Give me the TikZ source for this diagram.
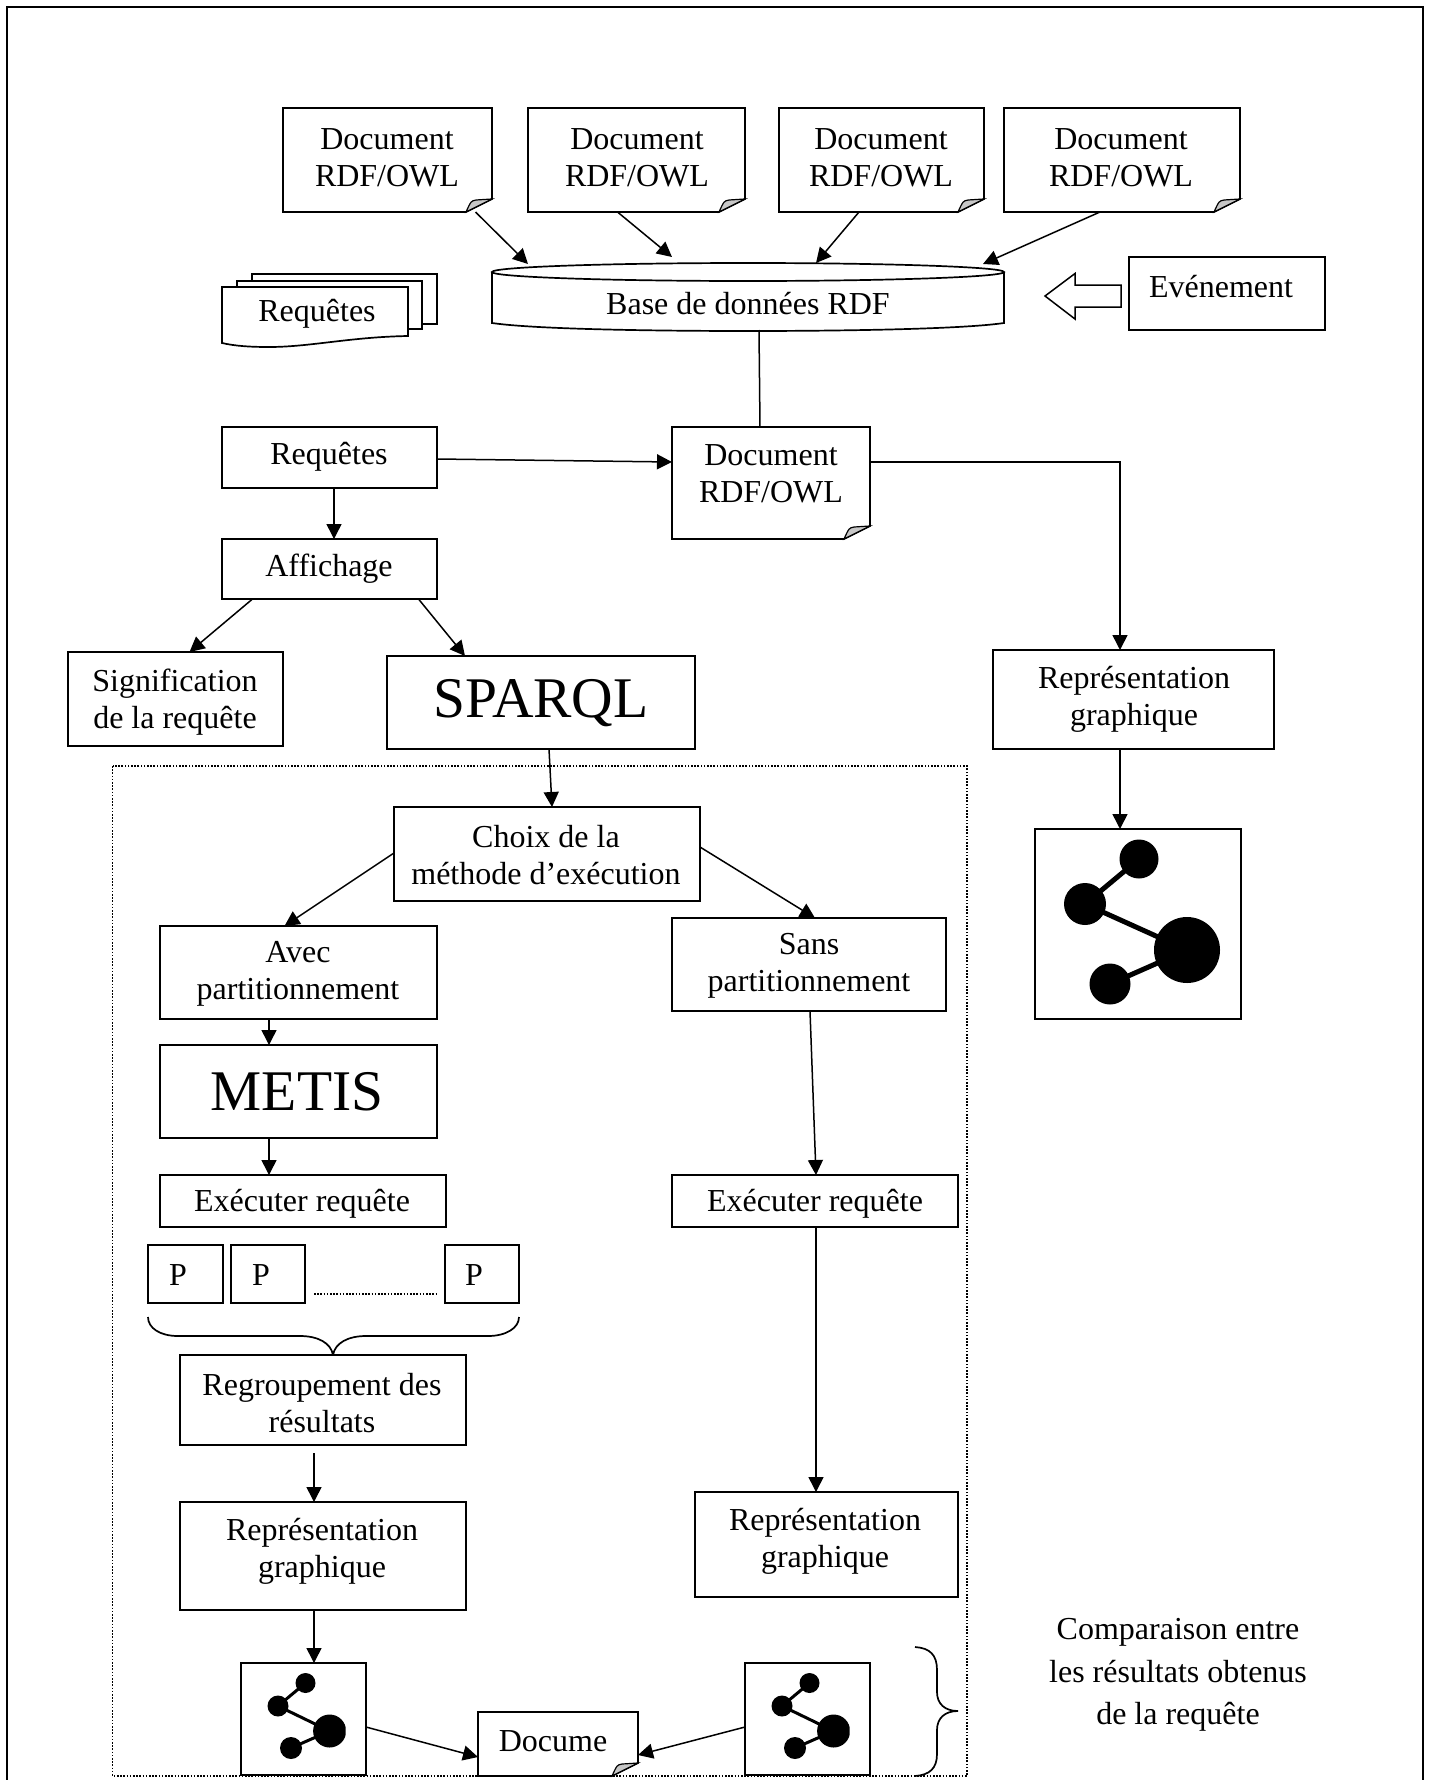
\documentclass[tikz,border=0pt]{standalone}
\usepackage{fontspec}
\setmainfont{Liberation Serif}
\usetikzlibrary{arrows.meta}
\tikzset{
  boxst/.style={draw=black,line width=1.7pt,inner sep=0,outer sep=0,fill=white},
  ghost/.style={inner sep=0,outer sep=0},
  conn/.style={draw=black,line width=1.5pt,-{Triangle[length=15pt,width=15pt]}},
  plainline/.style={draw=black,line width=1.5pt},
  txt/.style={inner sep=0,outer sep=0,align=center,font=\fontsize{32}{37}\selectfont},
  bigtxt/.style={inner sep=0,outer sep=0,align=center,font=\fontsize{57.5}{66}\selectfont},
  foldst/.style={draw=black,line width=1.2pt,fill=black!22},
  dotline/.style={draw=black,line width=1.5pt,dash pattern=on 1.6pt off 1.6pt},
  brace/.style={draw=black,line width=1.7pt}
}
\newcommand{\bx}[5]{\node[boxst,minimum width={(#4-#2)*1pt},minimum height={(#5-#3)*1pt}] (#1) at ({(#2+#4)/2},{(#3+#5)/2}) {};}
\newcommand{\gh}[5]{\node[ghost,minimum width={(#4-#2)*1pt},minimum height={(#5-#3)*1pt}] (#1) at ({(#2+#4)/2},{(#3+#5)/2}) {};}
\newcommand{\docbox}[5]{%
  \gh{#1}{#2}{#3}{#4}{#5}
  \draw[line width=1.7pt,fill=white] (#1.north west) -- (#1.north east) -- ([yshift=13]#1.south east) -- ([xshift=-26]#1.south east) -- (#1.south west) -- cycle;
  \draw[foldst] ([xshift=-26]#1.south east) .. controls ([xshift=-21,yshift=11]#1.south east) .. ([xshift=-16,yshift=12]#1.south east) -- ([yshift=13]#1.south east) -- cycle;
}
\newcommand{\smallicon}[1]{%
  \begin{scope}[xshift=#1]
    \clip (241,1663) rectangle (345.7,1775);
    \fill (305.5,1683) circle (10);
    \fill (278,1706) circle (10.5);
    \fill (329.6,1731) circle (16.5);
    \fill (291,1748) circle (11);
    \draw[line width=3pt] (305.5,1683) -- (278,1706) -- (329.6,1731) -- (291,1748);
  \end{scope}
}
\begin{document}
\begin{tikzpicture}[x=1pt,y=-1pt]
\useasboundingbox (0,0) rectangle (1430,1780);
\fill[white] (0,0) rectangle (1430,1780);
% outer frame
\draw[line width=1.7pt] (7,1780) -- (7,7) -- (1423,7) -- (1423,1780);
% dotted frame
\draw[dotline] (112.6,766) rectangle (967,1776);

% top documents
\docbox{da}{283}{108}{492}{212}
\docbox{db}{528}{108}{745}{212}
\docbox{dc}{779}{108}{984}{212}
\docbox{dd}{1004}{108}{1240}{212}
\node[txt] (tda) at (387,158) {Document\\RDF/OWL};
\node[txt] (tdb) at (637,158) {Document\\RDF/OWL};
\node[txt] (tdc) at (881,158) {Document\\RDF/OWL};
\node[txt] (tdd) at (1121,158) {Document\\RDF/OWL};

% database
\gh{base}{492}{272}{1004}{330}
\draw[line width=1.7pt,fill=white] (base.north west) -- (492,323) .. controls (540,330) and (680,331) .. (748,331) .. controls (816,331) and (956,330) .. (1004,323) -- (base.north east);
\draw[line width=1.7pt,fill=white] (748,272) ellipse (256 and 9);
\node[txt] (tbase) at (748,304) {Base de données RDF};

% stacked requetes
\draw[line width=1.7pt,fill=white] (252,274) rectangle (437,324);
\draw[line width=1.7pt,fill=white] (237,281) rectangle (422,329);
\gh{stack}{222}{287}{408}{344}
\draw[line width=1.7pt,fill=white] (222,287) -- (408,287) -- (408,336) .. controls (350,337) and (310,347) .. (269,347) .. controls (250,347) and (235,346) .. (222,343) -- cycle;
\node[txt] (tstack) at (317,314) {Requêtes};

% evenement
\bx{eve}{1129}{257}{1325}{330}
\node[txt] (teve) at (1221,287) {Evénement};
\draw[line width=1.5pt,fill=white] (1045,296) -- (1075,273.5) -- (1075,285) -- (1121,285) -- (1121,307) -- (1075,307) -- (1075,319) -- cycle;

% middle row
\bx{req}{222}{427}{437}{488}
\node[txt] (treq) at (329,457) {Requêtes};
\bx{aff}{222}{539}{437}{599}
\node[txt] (taff) at (329,569) {Affichage};
\docbox{dm}{672}{427}{870}{539}
\node[txt] (tdm) at (771,474) {Document\\RDF/OWL};

\bx{sig}{68}{652}{283}{746}
\begin{scope}
  \clip ([yshift=-1]sig.north west) rectangle ([yshift=11]sig.south east);
  \node[txt] (tsig) at (175,702) {Signification\\de la requête};
\end{scope}
\bx{spa}{387}{656}{695}{749}
\node[bigtxt] (tspa) at (541,703) {SPARQL};
\bx{repa}{993}{650}{1274}{749}
\node[txt] (trepa) at (1134,699) {Représentation\\graphique};

% big icon
\bx{icon}{1035}{829}{1241}{1019}
\fill (1139,859) circle (19.5);
\fill (1085,904) circle (21);
\fill (1187,950) circle (33);
\fill (1110,984) circle (20.5);
\draw[line width=5pt] (1139,859) -- (1085,904) -- (1187,950) -- (1110,984);

% inner flow
\bx{choix}{394}{807}{700}{901}
\node[txt] (tchoix) at (546,855) {Choix de la\\méthode d'exécution};
\bx{avec}{160}{926}{437}{1019}
\node[txt] (tavec) at (298,974) {Avec\\partitionnement};
\bx{sans}{672}{918}{946}{1011}
\node[txt] (tsans) at (809,966) {Sans\\partitionnement};
\bx{metis}{160}{1045}{437}{1138}
\node[bigtxt] (tmetis) at (297,1092) {METIS};
\bx{exl}{160}{1175}{446}{1227}
\begin{scope}
  \clip ([yshift=-1]exl.north west) rectangle ([yshift=4]exl.south east);
  \node[txt] (texl) at (302,1204) {Exécuter requête};
\end{scope}
\bx{exr}{672}{1175}{958}{1227}
\begin{scope}
  \clip ([yshift=-1]exr.north west) rectangle ([yshift=4]exr.south east);
  \node[txt] (texr) at (815,1204) {Exécuter requête};
\end{scope}
\bx{pa}{148}{1245}{223}{1303}
\bx{pb}{231}{1245}{305}{1303}
\bx{pc}{445}{1245}{519}{1303}
\node[txt] (tpa) at (178,1275) {P};
\node[txt] (tpb) at (261,1275) {P};
\node[txt] (tpc) at (474,1275) {P};
\draw[dotline] (pb.south east) ++(9,-9) coordinate (dota) -- ([xshift=-9,yshift=9]pc.south west) coordinate (dotb);
\draw[brace] (148,1317) .. controls (148,1328) and (160,1336) .. (178,1336) -- (300,1336) .. controls (318,1336) and (331,1343) .. (333,1355) .. controls (335,1343) and (348,1336) .. (366,1336) -- (488,1336) .. controls (506,1336) and (519,1328) .. (519,1317);
\bx{reg}{180}{1355}{466}{1445}
\node[txt] (treg) at (322,1403) {Regroupement des\\résultats};
\bx{repl}{180}{1502}{466}{1610}
\node[txt] (trepl) at (322,1551) {Représentation\\graphique};
\bx{repr}{695}{1492}{958}{1597}
\node[txt] (trepr) at (825,1541) {Représentation\\graphique};

% small icons
\bx{icl}{241}{1663}{366}{1775}
\bx{icr}{745}{1663}{870}{1775}
\smallicon{0}
\smallicon{504}
\docbox{dlow}{478}{1712}{638}{1776}
\node[txt] (tdlow) at (553,1741) {Docume};

% right brace and caption
\draw[brace] (915,1647) .. controls (930,1648) and (937,1655) .. (937,1670) -- (937,1692) .. controls (937,1704) and (945,1711) .. (958,1711) .. controls (945,1711) and (937,1718) .. (937,1730) -- (937,1754) .. controls (937,1768) and (930,1775) .. (915,1776);
\node[txt,font=\fontsize{32}{42.6}\selectfont] (tcomp) at (1178,1675) {Comparaison entre\\les résultats obtenus\\de la requête};

% connectors
\draw[conn] ([xshift=88]da.south) -- ([xshift=-220,yshift=8]base.north);
\draw[conn] ([xshift=-19]db.south) -- ([xshift=-76,yshift=15]base.north);
\draw[conn] ([xshift=-22]dd.south) -- ([xshift=-21,yshift=8]base.north east);
\draw[conn] ([xshift=-22.5]dc.south) -- ([xshift=68,yshift=9]base.north);
\draw[plainline] (base.south -| 759,0) -- (dm.north -| 760,0);
\draw[conn] (req.east |- 0,459) -- (dm.west |- 0,462);
\draw[conn] (req.south -| 334,0) -- (aff.north -| 334,0);
\draw[conn] (dm.east |- 0,462) -- (1120,462) -- (repa.north -| 1120,0);
\draw[conn] (repa.south -| 1120,0) -- (icon.north -| 1120,0);
\draw[conn] ([xshift=-77]aff.south) -- ([xshift=14]sig.north);
\draw[conn] ([xshift=89]aff.south) -- ([xshift=-76]spa.north);
\draw[conn] ([xshift=8]spa.south) -- ([xshift=5]choix.north);
\draw[conn] (choix.west |- 0,853) -- ([xshift=-14]avec.north);
\draw[conn] (choix.east |- 0,847) -- ([xshift=6]sans.north);
\draw[conn] (avec.south -| 269,0) -- (metis.north -| 269,0);
\draw[conn] (metis.south -| 269,0) -- (exl.north -| 269,0);
\draw[conn] ([xshift=1]sans.south) -- (exr.north -| 816,0);
\draw[conn] (exr.south -| 816,0) -- (repr.north -| 816,0);
\draw[conn] (reg.south -| 314,0) ++(0,8) coordinate (rega) -- (repl.north -| 314,0);
\draw[conn] (repl.south -| 314,0) -- (icl.north -| 314,0);
\draw[conn] (icl.east |- 0,1727) -- (dlow.west |- 0,1757);
\draw[conn] (icr.west |- 0,1727) -- (dlow.east |- 0,1755);
\end{tikzpicture}
\end{document}
